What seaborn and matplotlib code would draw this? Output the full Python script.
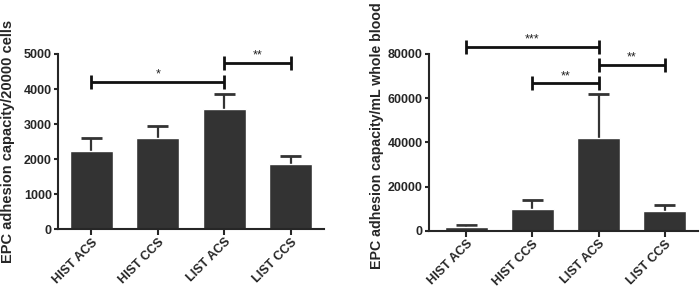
import numpy as np
import pandas as pd
import matplotlib
matplotlib.use("Agg")
import matplotlib.pyplot as plt
import seaborn as sns

# group names and values (mean + SEM, upper error bar only)
groups = ["HIST ACS", "HIST CCS", "LIST ACS", "LIST CCS"]

cells_mean = [2230, 2590, 3420, 1850]
cells_sem = [360, 360, 430, 230]

blood_mean = [2000, 10100, 42000, 9000]
blood_sem = [900, 3800, 19700, 2600]

# significance brackets: (from group, to group, height, label)
cells_sig = [(0, 2, 4200, "*"), (2, 3, 4740, "**")]
blood_sig = [(0, 2, 83000, "***"), (1, 2, 66700, "**"), (2, 3, 75000, "**")]

sns.set_style("ticks")
plt.rcParams['font.family'] = ['Liberation Sans', 'DejaVu Sans']
plt.rcParams['font.weight'] = 'bold'

bar_color = "#333333"

fig = plt.figure(figsize=(7, 2.95), dpi=100)
ax1 = fig.add_axes([0.083, 0.223, 0.380, 0.594])
ax2 = fig.add_axes([0.613, 0.217, 0.384, 0.600])


def draw_panel(ax, means, sems, sig, ymax, ystep, ylabel, tick_h):
    df = pd.DataFrame({"group": groups, "value": means})
    sns.barplot(data=df, x="group", y="value", color=bar_color, width=0.65,
                errorbar=None, saturation=1, ax=ax, zorder=2)
    x = np.arange(len(groups))
    tops = np.array(means) + np.array(sems)
    # upper-only error bars: stem from bar top plus a single cap
    ax.vlines(x, means, tops, color=bar_color, lw=1.6, zorder=1)
    ax.hlines(tops, x - 0.16, x + 0.16, color=bar_color, lw=2, zorder=1)
    for i, j, h, lab in sig:
        ax.plot([i, j], [h, h], color="#111111", lw=2, clip_on=False,
                solid_capstyle="butt")
        for k in (i, j):
            ax.plot([k, k], [h - tick_h, h + tick_h], color="#111111", lw=2,
                    clip_on=False, solid_capstyle="butt")
        ax.text((i + j) / 2, h + tick_h * 0.2, lab, ha="center", va="bottom",
                fontsize=9, fontweight="normal", color="#222222")
    ax.set_ylim(0, ymax)
    ax.set_yticks(np.arange(0, ymax + 1, ystep))
    ax.set_ylabel(ylabel, fontsize=10.5, fontweight="bold")
    ax.set_xlabel("")
    ax.tick_params(axis="y", labelsize=9, width=1.5, length=3, pad=1.5)
    ax.tick_params(axis="x", labelsize=9, width=1.5, length=4, pad=1)
    plt.setp(ax.get_xticklabels(), rotation=45, ha="right",
             rotation_mode="anchor", fontweight="bold")
    plt.setp(ax.get_yticklabels(), fontweight="bold")
    for s in ("left", "bottom"):
        ax.spines[s].set_linewidth(1.5)
    sns.despine(ax=ax)


draw_panel(ax1, cells_mean, cells_sem, cells_sig, 5000, 1000,
           "EPC adhesion capacity/20000 cells", 200)
ax1.set_xlim(-0.5, 3.5)
ax1.yaxis.set_label_coords(-0.163, 0.5)

draw_panel(ax2, blood_mean, blood_sem, blood_sig, 80000, 20000,
           "EPC adhesion capacity/mL whole blood", 3200)
ax2.set_xlim(-0.56, 3.5)
ax2.yaxis.label.set_fontsize(10.2)
ax2.yaxis.set_label_coords(-0.168, 0.54)

fig.savefig("out.png", dpi=100)
